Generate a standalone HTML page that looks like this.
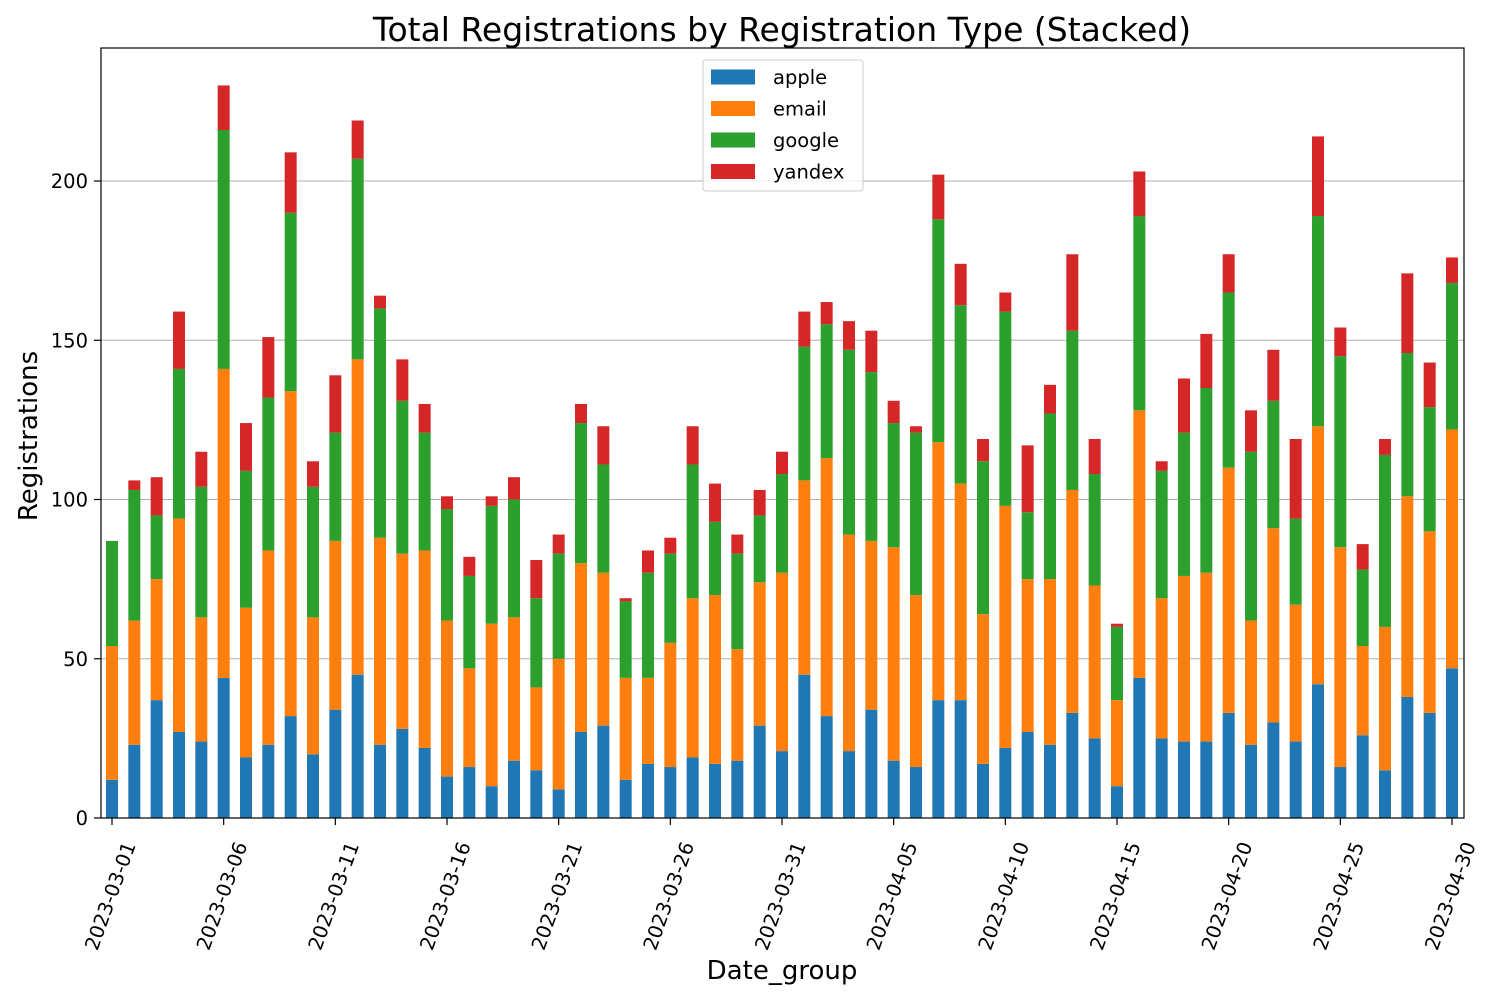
<!DOCTYPE html>
<html><head><meta charset="utf-8"><style>
body{margin:0;background:#fff;}
svg{display:block;font-family:"DejaVu Sans","Liberation Sans",sans-serif;}
</style></head><body>
<svg id="chart" width="1500" height="1000" viewBox="0 0 1500 1000">
<rect width="1500" height="1000" fill="#fff"/>
<text x="782" y="41" text-anchor="middle" font-size="33" fill="#000">Total Registrations by Registration Type (Stacked)</text>
<g id="grid"></g>
<g id="bars"></g>
<rect x="101" y="48" width="1363" height="770" fill="none" stroke="#000" stroke-width="1.2"/>
<g id="axes"></g>
<text transform="translate(37,436) rotate(-90)" text-anchor="middle" font-size="26">Registrations</text>
<text x="782" y="979" text-anchor="middle" font-size="26">Date_group</text>
<g id="legend"></g>
</svg>
<script>
const seriesNames = ["apple","email","google","yandex"];
const seriesColors = ["#1f77b4","#ff7f0e","#2ca02c","#d62728"];
const apple = [12,23,37,27,24,44,19,23,32,20,34,45,23,28,22,13,16,10,18,15,9,27,29,12,17,16,19,17,18,29,21,45,32,21,34,18,16,37,37,17,22,27,23,33,25,10,44,25,24,24,33,23,30,24,42,16,26,15,38,33,47];
const email = [42,39,38,67,39,97,47,61,102,43,53,99,65,55,62,49,31,51,45,26,41,53,48,32,27,39,50,53,35,45,56,61,81,68,53,67,54,81,68,47,76,48,52,70,48,27,84,44,52,53,77,39,61,43,81,69,28,45,63,57,75];
const google = [33,41,20,47,41,75,43,48,56,41,34,63,72,48,37,35,29,37,37,28,33,44,34,24,33,28,42,23,30,21,31,42,42,58,53,39,51,70,56,48,61,21,52,50,35,23,61,40,45,58,55,53,40,27,66,60,24,54,45,39,46];
const yandex = [0,3,12,18,11,14,15,19,19,8,18,12,4,13,9,4,6,3,7,12,6,6,12,1,7,5,12,12,6,8,7,11,7,9,13,7,2,14,13,7,6,21,9,24,11,1,14,3,17,17,12,13,16,25,25,9,8,5,25,14,8];
const yTicks = [0,50,100,150,200];
const xTickLabels = ["2023-03-01","2023-03-06","2023-03-11","2023-03-16","2023-03-21","2023-03-26","2023-03-31","2023-04-05","2023-04-10","2023-04-15","2023-04-20","2023-04-25","2023-04-30"];
const xTickIndex = [0,5,10,15,20,25,30,35,40,45,50,55,60];

const NS="http://www.w3.org/2000/svg";
function mk(tag,attrs,parent){const e=document.createElementNS(NS,tag);for(const k in attrs)e.setAttribute(k,attrs[k]);parent.appendChild(e);return e;}
const n=apple.length;
function xPos(i){return 112+i*(1452-112)/(n-1);}
function yPos(v){return 818-v*(818-181)/200;}
const barW=12;
const series=[apple,email,google,yandex];
const gBars=document.getElementById('bars');
for(let i=0;i<n;i++){
  let base=0;
  for(let s=0;s<4;s++){
    const v=series[s][i];
    const r=mk('rect',{x:xPos(i)-barW/2,y:yPos(base+v),width:barW,height:yPos(base)-yPos(base+v),fill:seriesColors[s]},gBars);
    
    
    base+=v;
  }
}
const gGrid=document.getElementById('grid');
const gAx=document.getElementById('axes');
yTicks.forEach(t=>{
  const y=yPos(t);
  if(t>0){const l=mk('line',{x1:101,x2:1464,y1:y,y2:y,stroke:'#b0b0b0','stroke-width':1},gGrid);
  
  }
  mk('line',{x1:94,x2:101,y1:y,y2:y,stroke:'#000','stroke-width':1.2},gAx);
  const tx=mk('text',{x:88,y:y+7,'text-anchor':'end','font-size':19.5},gAx);
  tx.textContent=t;
  
  
});
xTickIndex.forEach((idx,k)=>{
  const x=xPos(idx);
  mk('line',{x1:x,x2:x,y1:818,y2:825,stroke:'#000','stroke-width':1.2},gAx);
  const tx=mk('text',{transform:`translate(${x+24},${845}) rotate(-70)`,'text-anchor':'end','font-size':19.5},gAx);
  tx.textContent=xTickLabels[k];
  
  
});
const gL=document.getElementById('legend');
const box=mk('rect',{x:703,y:60,width:160,height:131,fill:'#fff','fill-opacity':0.8,stroke:'#ccc',rx:3},gL);


seriesNames.forEach((nm,s)=>{
  const y=77+s*31.5;
  const p=mk('rect',{x:711,y:y-7.5,width:44,height:15,fill:seriesColors[s]},gL);
  
  
  const t=mk('text',{x:773,y:y+7,'font-size':19.5},gL);
  t.textContent=nm;
  
  
});
</script>
</body></html>
